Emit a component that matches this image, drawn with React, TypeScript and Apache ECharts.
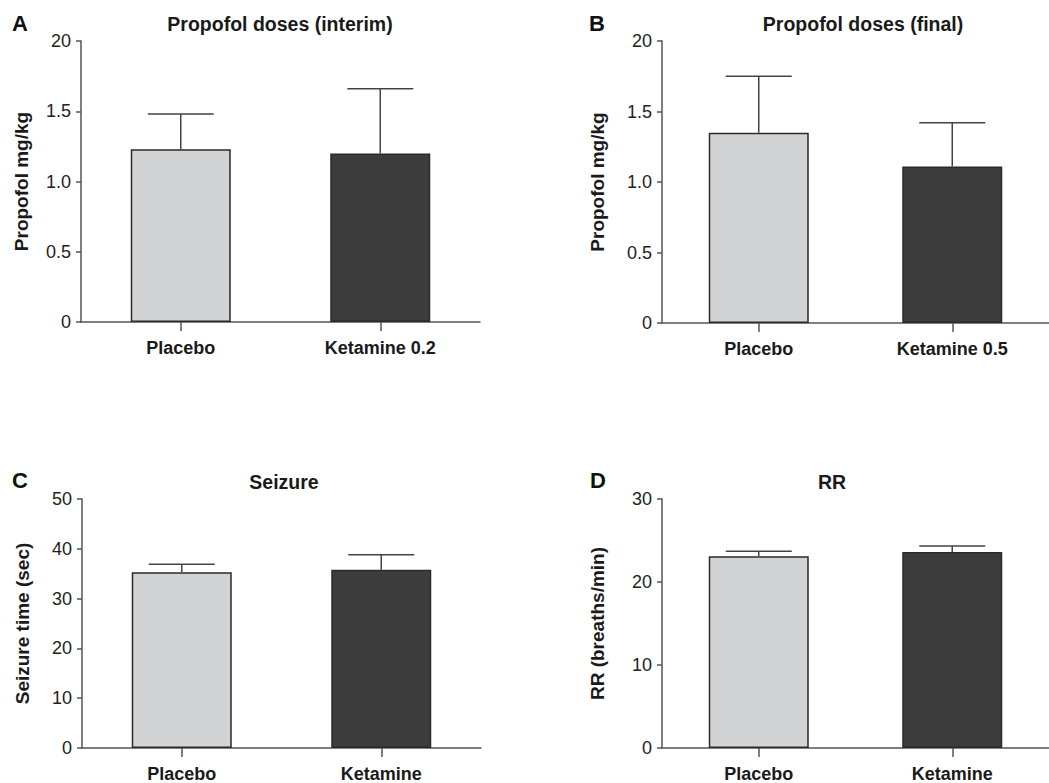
import React, { useEffect, useRef } from "react";
import * as echarts from "echarts";

// ---- Data ----
const categoriesA = ["Placebo", "Ketamine 0.2"];
const meansA = [1.23, 1.2];
const errA = [0.25, 0.46];

const categoriesB = ["Placebo", "Ketamine 0.5"];
const meansB = [1.35, 1.11];
const errB = [0.4, 0.31];

const categoriesC = ["Placebo", "Ketamine"];
const meansC = [35.3, 35.8];
const errC = [1.6, 3.0];

const categoriesD = ["Placebo", "Ketamine"];
const meansD = [23.1, 23.6];
const errD = [0.6, 0.75];

const titles = ["Propofol doses (interim)", "Propofol doses (final)", "Seizure", "RR"];
const panelLetters = ["A", "B", "C", "D"];
const yNames = ["Propofol mg/kg", "Propofol mg/kg", "Seizure time (sec)", "RR (breaths/min)"];
const yMax = [2, 2, 50, 30];
const yInterval = [0.5, 0.5, 10, 10];

// ---- Styles ----
const FONT = "'Liberation Sans', Arial, Helvetica, sans-serif";
const BAR_COLORS = ["#d1d3d5", "#3c3c3c"];
const EDGE = "#2a2a2a";
const AXIS = "#555555";
const grids = [
  { left: 81, top: 41, width: 399, height: 281 },
  { left: 662, top: 41, width: 399, height: 282 },
  { left: 82, top: 499, width: 399, height: 251 },
  { left: 662, top: 499, width: 399, height: 251 },
];
const nameGaps = [50, 55, 50, 55];
const titlePos = [
  [280, 24],
  [863, 24],
  [284, 482],
  [832, 482],
];
const letterPos = [
  [12, 23],
  [589, 23],
  [12, 480],
  [590, 480],
];

export default function App() {
  const ref = useRef<HTMLDivElement>(null);
  useEffect(() => {
    if (!ref.current) return;
    const chart = echarts.init(ref.current, undefined, { renderer: "svg" });
    const cats = [categoriesA, categoriesB, categoriesC, categoriesD];
    const means = [meansA, meansB, meansC, meansD];
    const errs = [errA, errB, errC, errD];

    const xAxis = cats.map((c, i) => ({
      type: "category",
      gridIndex: i,
      data: c,
      boundaryGap: true,
      axisLine: { show: true, lineStyle: { color: AXIS, width: 1.5 } },
      axisTick: { show: true, alignWithLabel: true, length: 9, lineStyle: { color: AXIS, width: 1.5 } },
      axisLabel: {
        color: "#1a1a1a",
        fontFamily: FONT,
        fontWeight: "bold",
        fontSize: 18,
        margin: 17,
      },
      splitLine: { show: false },
    }));

    const yAxis = yMax.map((m, i) => ({
      type: "value",
      gridIndex: i,
      min: 0,
      max: m,
      interval: yInterval[i],
      name: yNames[i],
      nameLocation: "middle",
      nameRotate: 90,
      nameGap: nameGaps[i],
      nameTextStyle: { color: "#1a1a1a", fontFamily: FONT, fontWeight: "bold", fontSize: 19 },
      axisLine: { show: true, lineStyle: { color: AXIS, width: 1.5 } },
      axisTick: { show: true, length: 5, lineStyle: { color: AXIS, width: 1.5 } },
      axisLabel: {
        color: "#222",
        fontFamily: FONT,
        fontSize: 18,
        margin: 10,
        formatter: (v: number) => {
          if (m === 2) {
            if (v === 0) return "0";
            if (v === 2) return "20";
            return v.toFixed(1);
          }
          return String(v);
        },
      },
      splitLine: { show: false },
    }));

    const series: any[] = [];
    means.forEach((mv, i) => {
      series.push({
        type: "bar",
        xAxisIndex: i,
        yAxisIndex: i,
        barWidth: 100,
        data: mv.map((v, j) => ({
          value: v,
          itemStyle: { color: BAR_COLORS[j], borderColor: EDGE, borderWidth: 1.5 },
        })),
      });
      series.push({
        type: "custom",
        xAxisIndex: i,
        yAxisIndex: i,
        z: 5,
        encode: { x: 0, y: 1 },
        data: mv.map((v, j) => [j, v, errs[i][j]]),
        renderItem: (_p: any, api: any) => {
          const c = api.value(0);
          const m = api.value(1);
          const e = api.value(2);
          const base = api.coord([c, m]);
          const top = api.coord([c, m + e]);
          const half = 33;
          const st = { stroke: "#444", lineWidth: 1.5 };
          return {
            type: "group",
            children: [
              { type: "line", shape: { x1: base[0], y1: base[1], x2: top[0], y2: top[1] }, style: st },
              { type: "line", shape: { x1: top[0] - half, y1: top[1], x2: top[0] + half, y2: top[1] }, style: st },
            ],
          };
        },
      });
    });

    const graphic: any[] = [];
    titles.forEach((t, i) => {
      graphic.push({
        type: "text",
        x: titlePos[i][0],
        y: titlePos[i][1],
        style: {
          text: t,
          fill: "#1a1a1a",
          font: `bold 19.5px ${FONT}`,
          textAlign: "center",
          textVerticalAlign: "middle",
        },
      });
      graphic.push({
        type: "text",
        x: letterPos[i][0],
        y: letterPos[i][1],
        style: {
          text: panelLetters[i],
          fill: "#111",
          font: `bold 22px ${FONT}`,
          textAlign: "left",
          textVerticalAlign: "middle",
        },
      });
    });

    chart.setOption({
      animation: false,
      backgroundColor: "#ffffff",
      grid: grids.map((g) => ({ ...g, containLabel: false })),
      xAxis,
      yAxis,
      series,
      graphic,
    });
    return () => chart.dispose();
  }, []);
  return (
    <div
      ref={ref}
      style={{ position: "absolute", left: 0, top: 0, width: 1049, height: 783, background: "#fff" }}
    />
  );
}
